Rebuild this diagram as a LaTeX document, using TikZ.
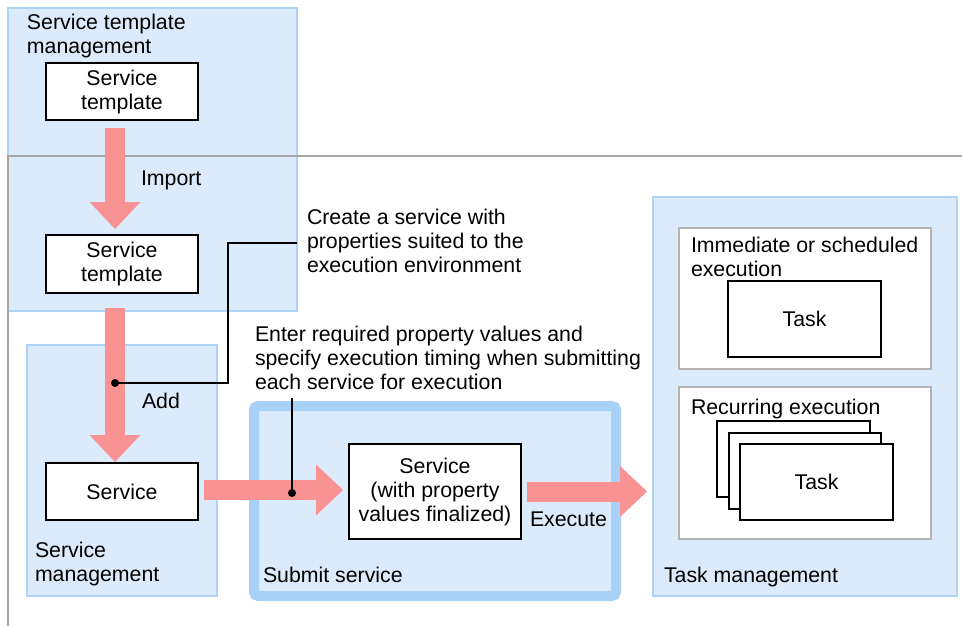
\documentclass[tikz,border=0pt]{standalone}
\usepackage{fontspec}
\setmainfont{Liberation Sans}
\usetikzlibrary{arrows.meta,calc}
\definecolor{zonefill}{HTML}{DCEBFB}
\definecolor{zoneline}{HTML}{AED3F6}
\definecolor{submitline}{HTML}{A8D1F8}
\definecolor{flowred}{HTML}{F99393}
\definecolor{rulegray}{HTML}{A6A6A6}
\definecolor{framegray}{HTML}{B3B3B3}
\begin{document}
\begin{tikzpicture}[x=1pt,y=-1pt,
  every node/.style={font=\fontsize{21.3}{24}\selectfont, inner sep=0pt, outer sep=0pt},
  zone/.style={fill=zonefill, draw=zoneline, line width=1.5pt},
  submitzone/.style={fill=zonefill, draw=submitline, line width=10pt, rounded corners=4pt},
  item/.style={draw=black, fill=white, line width=2pt, align=center},
  framebox/.style={draw=framegray, fill=white, line width=1.8pt},
  lbl/.style={anchor=north west, align=left},
  tag/.style={anchor=base west},
  fat/.style={draw=flowred, line width=20pt,
    -{Triangle[width=51pt,length=27pt,line width=0pt]}},
  callout/.style={draw=black, line width=1.5pt},
]
\useasboundingbox (0,0) rectangle (962,626);

% management zones
\node[zone, minimum width=289pt, minimum height=303pt] (tmz) at (152.5,159.5) {};
\node[zone, minimum width=190pt, minimum height=251pt] (smz) at (122,470.5) {};
\node[submitzone, minimum width=362pt, minimum height=190pt] (sub) at (435,501) {};
\node[zone, minimum width=304pt, minimum height=399pt] (tkz) at (805,396.5) {};

% separator between the two environments
\draw[rulegray, line width=1.2pt] (8,626) -- (8,156) -- (962,156);

% execution frames inside task management
\node[framebox, minimum width=252pt, minimum height=141pt] (imm) at (805,298.5) {};
\node[framebox, minimum width=252pt, minimum height=152pt] (rec) at (805,463) {};

% objects
\node[item, minimum width=152pt, minimum height=57pt] (tpl1) at (122,91.5) {Service\\template};
\node[item, minimum width=152pt, minimum height=58pt] (tpl2) at (122,264) {Service\\template};
\node[item, minimum width=152pt, minimum height=57pt] (svc) at (122,491.5) {Service};
\node[item, minimum width=172pt, minimum height=95pt] (fin) at (435,491.5)
  {Service\\(with property\\values finalized)};
\node[item, minimum width=153pt, minimum height=76pt] (task1) at (804.5,319) {Task};
\node[item, minimum width=153pt, minimum height=76pt] (taskc) at (793.5,459) {};
\node[item, minimum width=152pt, minimum height=76pt] (taskb) at (805,471) {};
\node[item, minimum width=153pt, minimum height=76pt] (taska) at (816.5,482) {Task};

% flow arrows
\draw[fat, shorten <=8pt, shorten >=6pt] ([xshift=-7pt]tpl1.south) -- ([xshift=-7pt]tpl2.north);
\draw[fat, shorten <=15pt, shorten >=1pt] ([xshift=-7pt]tpl2.south) -- ([xshift=-7pt]svc.north);
\draw[fat, shorten <=6pt, shorten >=6pt] ([yshift=1.5pt]svc.east) -- ([yshift=1.5pt]fin.west);
\draw[fat, shorten <=6pt, shorten >=6pt] (fin.east) -- (fin.east -| tkz.west);

% zone and step labels
\node[lbl] (tmzlbl) at (27,13.2) {\strut Service template\\management\strut};
\node[lbl] (smzlbl) at (35,540.2) {\strut Service\\management\strut};
\node[tag] (sublbl) at (263,582) {Submit service};
\node[tag] (tkzlbl) at (664,582) {Task management};
\node[lbl] (immlbl) at (691,235.2) {\strut Immediate or scheduled\\execution\strut};
\node[tag] (reclbl) at (691,414) {Recurring execution};
\node[tag] (imp) at (141,185) {Import};
\node[tag] (add) at (142,408) {Add};
\node[tag] (exe) at (530,526) {Execute};

% notes with leader lines
\node[lbl] (note1) at (307,207.2)
  {\strut Create a service with\\properties suited to the\\execution environment\strut};
\node[lbl] (note2) at (255,324.2)
  {\strut Enter required property values and\\specify execution timing when submitting\\each service for execution\strut};

\coordinate (d1) at ($([xshift=-7pt]tpl2.south)+(0,90)$);
\draw[callout] (d1) -| ([xshift=-79pt]note1.west) -- ([xshift=-10pt]note1.west);
\fill (d1) circle (4pt);

\coordinate (d2) at (292,493);
\draw[callout] (d2) -- ([yshift=-2pt]d2 |- note2.south);
\fill (d2) circle (4pt);
\end{tikzpicture}
\end{document}
